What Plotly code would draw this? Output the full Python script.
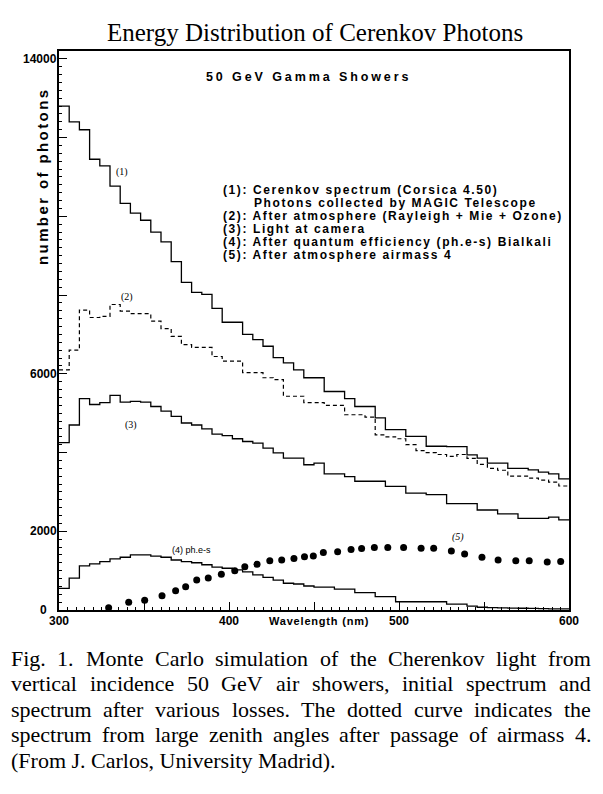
import plotly.graph_objects as go

W, H = 603, 794

# ---------------- data ----------------
bin_edges = list(range(300, 601, 6))  # 50 bins of 6 nm

cerenkov = [12800, 12400, 12200, 11450, 11280, 10770, 10330, 10080, 9900, 9600,
            9350, 8850, 8320, 8070, 8020, 7660, 7310, 7310, 7000, 6870,
            6700, 6410, 6280, 6100, 5900, 5900, 5550, 5550, 5370, 5170,
            5170, 4880, 4580, 4580, 4410, 4410, 4160, 4160, 4150, 4150,
            3940, 3860, 3730, 3730, 3600, 3600, 3560, 3500, 3460, 3330]
after_atm = [6100, 6600, 7620, 7430, 7460, 7760, 7590, 7530, 7530, 7340,
             7150, 6950, 6740, 6670, 6670, 6440, 6320, 6320, 6030, 6030,
             5900, 5850, 5430, 5430, 5270, 5270, 5200, 5200, 4960, 4960,
             4900, 4450, 4400, 4350, 4200, 4050, 4000, 3950, 3900, 3950,
             3850, 3700, 3600, 3550, 3400, 3400, 3350, 3300, 3250, 3150]
at_camera = [4250, 4700, 5370, 5220, 5270, 5450, 5280, 5300, 5280, 5170,
             5050, 4920, 4750, 4700, 4600, 4470, 4430, 4350, 4280, 4240,
             4110, 3990, 3860, 3860, 3690, 3730, 3460, 3460, 3390, 3270,
             3270, 3270, 3140, 3140, 2970, 2970, 2930, 2930, 2700, 2700,
             2700, 2540, 2540, 2440, 2440, 2330, 2330, 2330, 2360, 2290]
photoelectrons = [550, 810, 1120, 1170, 1230, 1300, 1340, 1400, 1400, 1370,
                  1340, 1270, 1230, 1200, 1150, 1090, 1060, 1020, 970, 890,
                  830, 760, 680, 660, 610, 580, 580, 530, 530, 440,
                  440, 340, 340, 210, 210, 210, 210, 210, 150, 150,
                  100, 70, 60, 55, 50, 45, 40, 35, 30, 30]

airmass_wl = [329.2, 341.0, 350.4, 360.6, 368.6, 374.5, 381.0, 387.8, 395.5, 403.4,
              409.3, 416.5, 424.0, 431.0, 438.2, 444.4, 449.6, 455.5, 463.9, 471.8,
              478.0, 485.5, 493.4, 502.7, 513.0, 520.4, 530.8, 538.6, 548.8, 558.3,
              568.7, 576.6, 587.2, 595.1]
airmass_val = [60, 200, 250, 360, 490, 590, 760, 810, 910, 1000,
               1100, 1160, 1250, 1270, 1310, 1350, 1370, 1460, 1480, 1540,
               1560, 1590, 1590, 1590, 1570, 1570, 1500, 1420, 1340, 1270,
               1250, 1250, 1220, 1230]

x_major = [300, 350, 400, 450, 500, 550, 600]
x_labels = [300, 400, 500, 600]
y_major = [0, 2000, 4000, 6000, 8000, 10000, 12000, 14000]
y_labels = [0, 2000, 6000, 14000]

title_text = "Energy Distribution of Cerenkov Photons"
inner_title = "50 GeV Gamma Showers"
legend_lines = [
    "(1): Cerenkov spectrum (Corsica 4.50)",
    "Photons collected by MAGIC Telescope",
    "(2): After atmosphere (Rayleigh + Mie + Ozone)",
    "(3): Light at camera",
    "(4): After quantum efficiency (ph.e-s) Bialkali",
    "(5): After atmosphere airmass 4",
]
caption_lines = [
    "Fig. 1. Monte Carlo simulation of the Cherenkov light from",
    "vertical incidence 50 GeV air showers, initial spectrum and",
    "spectrum after various losses. The dotted curve indicates the",
    "spectrum from large zenith angles after passage of airmass 4.",
    "(From J. Carlos, University Madrid).",
]

# ---------------- layout helpers ----------------
PX0, PX1 = 59, 569     # plot area in pixels
PY0, PY1 = 51, 610


def px(x):
    return x / W


def py(y):
    return 1 - y / H


def steps(vals):
    return vals + [vals[-1]]


fig = go.Figure()
line_style = dict(color="black", width=1.3, shape="hv")
fig.add_trace(go.Scatter(x=bin_edges, y=steps(cerenkov), mode="lines", line=line_style))
fig.add_trace(go.Scatter(x=bin_edges, y=steps(after_atm), mode="lines",
                         line=dict(color="black", width=1.2, shape="hv", dash="4px,3px")))
fig.add_trace(go.Scatter(x=bin_edges, y=steps(at_camera), mode="lines", line=line_style))
fig.add_trace(go.Scatter(x=bin_edges, y=steps(photoelectrons), mode="lines", line=line_style))
fig.add_trace(go.Scatter(x=airmass_wl, y=airmass_val, mode="markers",
                         marker=dict(color="black", size=7)))

sans = "Liberation Sans"
serif = "Liberation Serif"

fig.update_layout(
    width=W, height=H, margin=dict(l=0, r=0, t=0, b=0, pad=0), autosize=False,
    paper_bgcolor="white", plot_bgcolor="white", showlegend=False,
    xaxis=dict(domain=[px(PX0), px(PX1)], range=[300, 600], automargin=False,
               tickvals=x_major, showticklabels=False,
               ticks="inside", ticklen=8, tickwidth=1, tickcolor="black",
               minor=dict(dtick=5, ticks="inside", ticklen=3, tickcolor="black"),
               showline=True, mirror=True, linecolor="black", linewidth=1.5,
               showgrid=False, zeroline=False),
    yaxis=dict(domain=[py(PY1), py(PY0)], range=[0, 14200], automargin=False,
               tickvals=y_major, showticklabels=False,
               ticks="inside", ticklen=8, tickwidth=1, tickcolor="black",
               minor=dict(dtick=200, ticks="inside", ticklen=3, tickcolor="black"),
               showline=True, mirror=True, linecolor="black", linewidth=1.5,
               showgrid=False, zeroline=False),
)

ann = []


def add_text(text, x, y, size, family=sans, bold=False, ls=None, xanchor="left",
             yanchor="middle", angle=0, xref="paper", yref="paper", xshift=0):
    t = text
    if ls is not None:
        t = f'<span style="letter-spacing:{ls}px">{t}</span>'
    if bold:
        t = f"<b>{t}</b>"
    ann.append(dict(text=t, x=x if xref != "paper" else px(x),
                    y=y if yref != "paper" else py(y), xref=xref, yref=yref,
                    xanchor=xanchor, yanchor=yanchor, showarrow=False,
                    textangle=angle, borderpad=0, xshift=xshift,
                    font=dict(family=family, size=size, color="black")))


# tick labels placed through the axes
for v in x_labels:
    add_text(str(v), v, 621, 12, bold=True, xanchor="center", xref="x")
for v in y_labels:
    if v == 0:
        add_text(str(v), 48, v, 12, bold=True, xanchor="right", yref="y")
    else:
        add_text(str(v), 58, v, 12, bold=True, xanchor="right", yref="y")

# Title
add_text(title_text, 314.5, 33, 25, family=serif, xanchor="center")
# inner title
add_text(inner_title, 308, 77, 12.5, bold=True, ls=2.9, xanchor="center")
# legend block
leg_x = [222, 253, 222, 222, 222, 222]
leg_y = [190, 203, 216, 229, 242, 255]
for t, lx, ly in zip(legend_lines, leg_x, leg_y):
    add_text(t, lx, ly, 12, bold=True, ls=1.6)
# axis titles
add_text("number of photons", 42, 177, 15, bold=True, ls=2.4, xanchor="center", angle=-90)
add_text("Wavelength (nm)", 319, 621, 11, bold=True, ls=0.8, xanchor="center")
# curve labels
add_text("(1)", 122, 172, 10, family=serif, xanchor="center")
add_text("(2)", 127, 297, 10, family=serif, xanchor="center")
add_text("(3)", 131, 425, 10, family=serif, xanchor="center")
add_text("(4) ph.e-s", 191, 550, 9, family=sans, xanchor="center")
add_text("<i>(5)</i>", 458, 537, 10, family=serif, xanchor="center")

# caption: justified, words placed using Times metrics
TIMES = {
    'a': 444, 'b': 500, 'c': 444, 'd': 500, 'e': 444, 'f': 333, 'g': 500, 'h': 500,
    'i': 278, 'j': 278, 'k': 500, 'l': 278, 'm': 778, 'n': 500, 'o': 500, 'p': 500,
    'q': 500, 'r': 333, 's': 389, 't': 278, 'u': 500, 'v': 500, 'w': 722, 'x': 500,
    'y': 500, 'z': 444,
    'A': 722, 'B': 667, 'C': 667, 'D': 722, 'E': 611, 'F': 556, 'G': 722, 'H': 722,
    'I': 333, 'J': 389, 'K': 722, 'L': 611, 'M': 889, 'N': 722, 'O': 722, 'P': 556,
    'Q': 722, 'R': 667, 'S': 556, 'T': 611, 'U': 722, 'V': 722, 'W': 944, 'X': 722,
    'Y': 722, 'Z': 611, '.': 250, ',': 250, '(': 333, ')': 333, '-': 333, ' ': 250,
}


def tw(s, size):
    return sum(TIMES.get(c, 500) for c in s) / 1000 * size


CAP_SIZE = 22
CAP_L, CAP_R = 10, 590
cap_y = [658, 683.5, 709, 734.5, 760]
for i, (line, ly) in enumerate(zip(caption_lines, cap_y)):
    if i == len(caption_lines) - 1:
        add_text(line, CAP_L, ly, CAP_SIZE, family=serif)
        continue
    words = line.split(" ")
    widths = [tw(w, CAP_SIZE) for w in words]
    gap = (CAP_R - CAP_L - sum(widths)) / (len(words) - 1)
    xcur = CAP_L
    for w, wd in zip(words, widths):
        add_text(w, xcur, ly, CAP_SIZE, family=serif)
        xcur += wd + gap

fig.update_layout(annotations=ann)
fig.write_html("out.html", config={"responsive": False, "displayModeBar": False},
               post_script="document.body.style.margin='0';document.body.style.overflow='hidden';")
